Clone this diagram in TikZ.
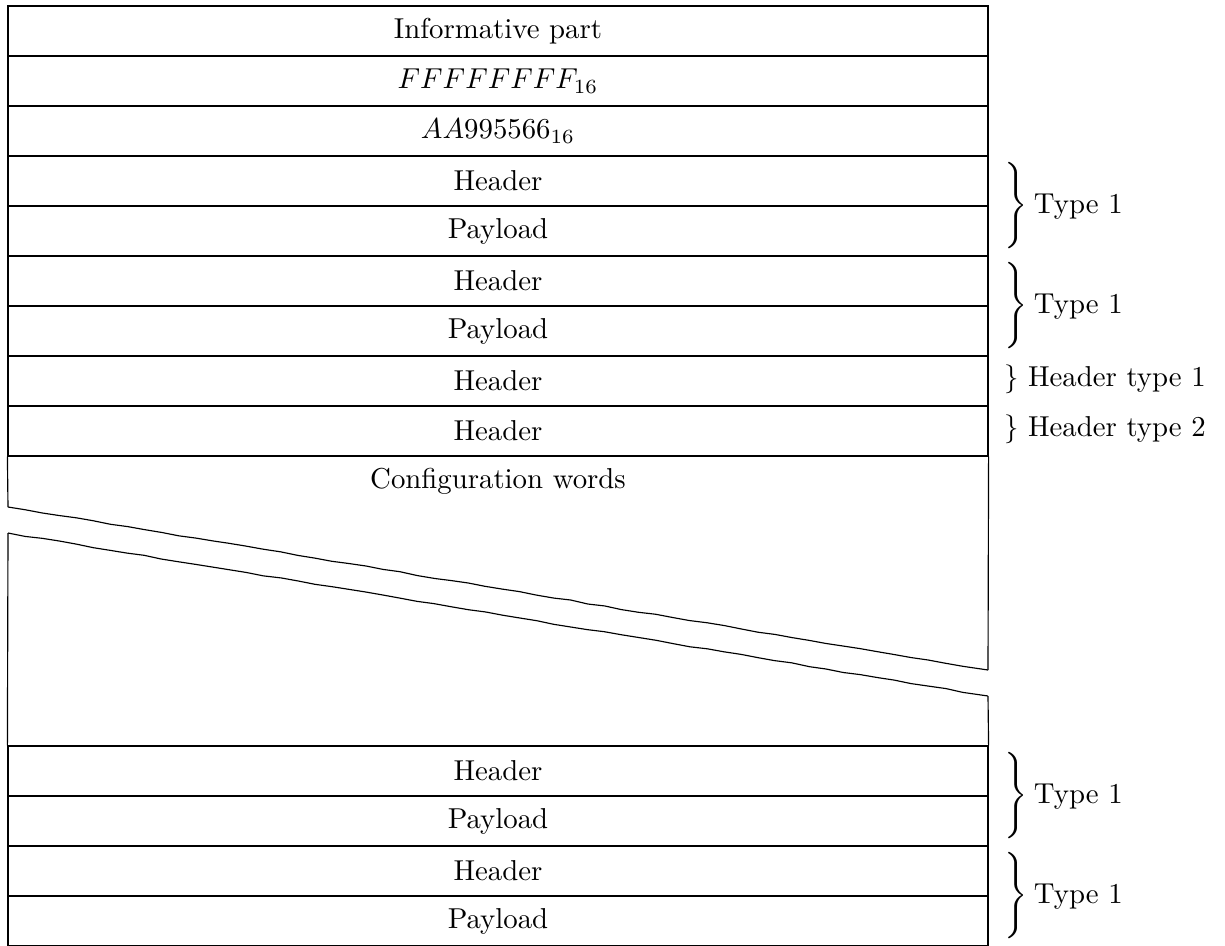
\documentclass[tikz,border=0pt]{standalone}
\usetikzlibrary{decorations.pathmorphing}
\newcommand{\pairbrace}{$\left.\vrule height17.5pt depth12.5pt width0pt\right\}$}
\begin{document}
\begin{tikzpicture}[x=0.3472pt,y=-0.3472pt,
  field/.style={draw, line width=0.4pt, minimum width=340.26pt, minimum height=17.36pt, inner sep=0pt},
  plain/.style={inner sep=0pt},
  lbl/.style={anchor=base west, inner sep=0pt},
  brk/.style={decorate, decoration={random steps, segment length=6pt, amplitude=0.2pt}}]
\pgfmathsetseed{7}
\useasboundingbox (0,0) rectangle (1225,945);

% upper stack of fields
\node[field] (r1) at (498,31)  {Informative part};
\node[field] (r2) at (498,81)  {$FFFFFFFF_{16}$};
\node[field] (r3) at (498,131) {$AA995566_{16}$};
\node[field] (r4) at (498,181) {Header};
\node[field] (r5) at (498,231) {Payload};
\node[field] (r6) at (498,281) {Header};
\node[field] (r7) at (498,331) {Payload};
\node[field] (r8) at (498,381) {Header};
\node[field] (r9) at (498,431) {Header};

% configuration words, shown with a break
\node[plain] (cfg) at (498,481) {Configuration words};
\coordinate (bA) at (8,507);
\coordinate (bB) at (988,670);
\coordinate (bC) at (8,533);
\coordinate (bD) at (988,696);

% lower stack of fields
\node[field] (r10) at (498,771) {Header};
\node[field] (r11) at (498,821) {Payload};
\node[field] (r12) at (498,871) {Header};
\node[field] (r13) at (498,921) {Payload};

\draw (r9.south west) -- (bA);
\draw[brk] (bA) -- (bB);
\draw (bB) -- (r9.south east);
\draw (r10.north west) -- (bC);
\draw[brk] (bC) -- (bD);
\draw (bD) -- (r10.north east);

% braces with their labels
\node[lbl] (t1) at (1000,213) {\pairbrace\hspace{2.3pt}Type 1};
\node[lbl] (t2) at (1000,313) {\pairbrace\hspace{2.3pt}Type 1};
\node[lbl] (h1) at (1003.5,386) {$\}$\ Header type 1};
\node[lbl] (h2) at (1003.5,436) {$\}$\ Header type 2};
\node[lbl] (t3) at (1000,803) {\pairbrace\hspace{2.3pt}Type 1};
\node[lbl] (t4) at (1000,903) {\pairbrace\hspace{2.3pt}Type 1};
\end{tikzpicture}
\end{document}
